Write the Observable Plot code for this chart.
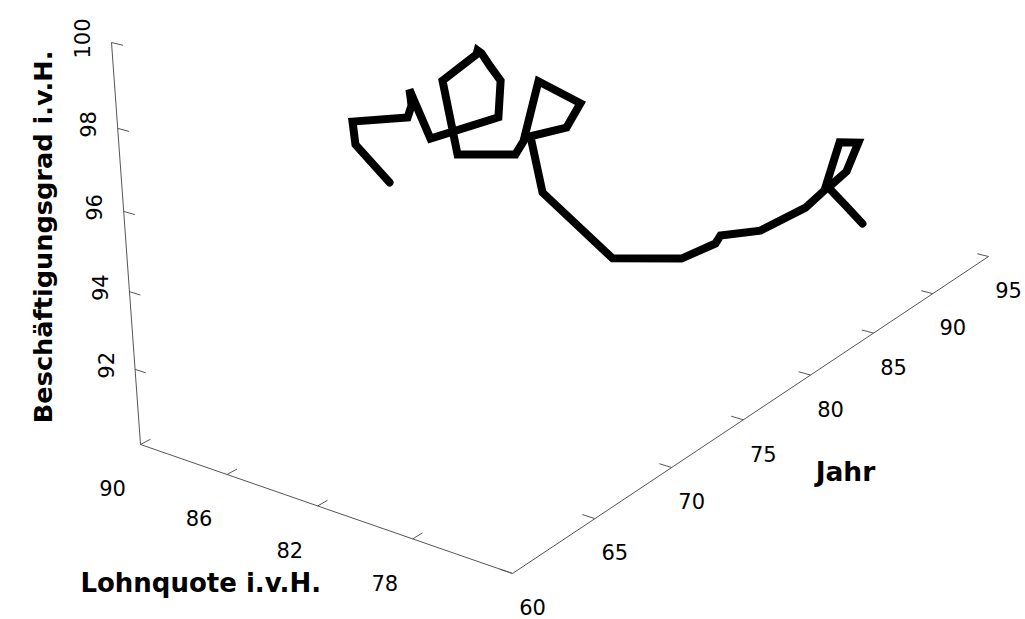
<!DOCTYPE html>
<html><head><meta charset="utf-8">
<script src="https://cdn.jsdelivr.net/npm/d3@7"></script>
<script src="https://cdn.jsdelivr.net/npm/@observablehq/plot@0.6"></script>
<style>
body{margin:0;background:#fff;}
</style></head>
<body><div id="chart"></div>
<script>
// Data (Jahr as two-digit years, Lohnquote i.v.H., Beschäftigungsgrad i.v.H.)
const jahr = [60,61,62,63,64,65,66,67,68,69,70,71,72,73,74,75,76,77,78,79,80,81,82,83,84,85,86,87,88,89,90,91,92,93,94,95];
const lohnquote = [78.71,80.76,81.61,80.15,80.71,81.47,82.23,82.10,80.02,80.61,81.70,82.75,83.60,84.33,86.51,86.55,84.63,84.94,84.96,83.73,84.96,87.25,87.30,84.58,82.01,81.08,81.43,80.20,78.80,78.54,78.54,78.22,79.14,80.40,80.06,79.72];
const beschaeftigung = [98.40,98.75,98.96,99.07,99.08,99.00,98.88,97.56,98.17,98.77,98.78,98.79,98.58,98.22,97.10,94.99,95.08,95.19,96.58,95.99,94.99,94.24,92.46,90.79,90.99,91.36,91.32,91.45,92.12,92.45,93.61,93.46,92.31,91.45,90.77,90.07];
const yearTicks = [60,65,70,75,80,85,90,95];
const lohnTicks = [90,86,82,78];
const beschTicks = [92,94,96,98,100];
const jahrDomain = [60,95], lohnDomain = [74,90], beschDomain = [90,100];

// perspective camera (homogeneous 3x4 projection of the normalised cube)
const cam = {ox:140, oy:444, o3:1, ux:662.9, uy:-228.95, u3:0.2325, vx:325.92, vy:77.43, v3:-0.09, wx:-37.88, wy:-405.36, w3:-0.08};
function P(J,L,B){
  const u=(J-jahrDomain[0])/(jahrDomain[1]-jahrDomain[0]);
  const v=(lohnDomain[1]-L)/(lohnDomain[1]-lohnDomain[0]);
  const w=(B-beschDomain[0])/(beschDomain[1]-beschDomain[0]);
  const d=cam.o3+cam.u3*u+cam.v3*v+cam.w3*w;
  return [(cam.ox+cam.ux*u+cam.vx*v+cam.wx*w)/d,(cam.oy+cam.uy*u+cam.vy*v+cam.wy*w)/d];
}
const X=d=>P(...d)[0], Y=d=>P(...d)[1];
const rows = jahr.map((J,i)=>({J, L:lohnquote[i], B:beschaeftigung[i]}));

const J0=jahrDomain[0], J1=jahrDomain[1], Lmin=lohnDomain[0], Lmax=lohnDomain[1], B0=beschDomain[0], B1=beschDomain[1];
const axes=[{a:[J0,Lmax,B0],b:[J0,Lmax,B1]},{a:[J0,Lmax,B0],b:[J0,Lmin,B0]},{a:[J0,Lmin,B0],b:[J1,Lmin,B0]}];
const ticks=[
  ...beschTicks.map(b=>({a:[J0,Lmax,b],b:[J0,Lmax-0.5,b]})),
  ...lohnTicks.map(l=>({a:[J0,l,B0],b:[J0+0.56,l,B0]})),
  ...yearTicks.map(y=>({a:[y,Lmin,B0],b:[y,Lmin+0.5,B0]}))
];

const chart = Plot.plot({width:1025,height:619,margin:0,
 x:{domain:[0,1025],range:[0,1025],axis:null}, y:{domain:[0,619],range:[0,619],axis:null},
 style:{fontFamily:"DejaVu Sans",background:"#fff"},
 marks:[
  Plot.link(axes,{x1:d=>X(d.a),y1:d=>Y(d.a),x2:d=>X(d.b),y2:d=>Y(d.b),stroke:"#555",strokeWidth:1}),
  Plot.link(ticks,{x1:d=>X(d.a),y1:d=>Y(d.a),x2:d=>X(d.b),y2:d=>Y(d.b),stroke:"#555",strokeWidth:1}),
  Plot.text(beschTicks,{x:b=>X([J0,Lmax,b]),y:b=>Y([J0,Lmax,b]),text:b=>String(b),rotate:-90,dx:-28,dy:-4,fontSize:21,fill:"#000"}),
  Plot.text(lohnTicks,{x:l=>X([J0,l,B0]),y:l=>Y([J0,l,B0]),text:l=>String(l),dx:-28,dy:45,fontSize:21,fill:"#000"}),
  Plot.text(yearTicks,{x:y=>X([y,Lmin,B0]),y:y=>Y([y,Lmin,B0]),text:y=>String(y),dx:20,dy:35,fontSize:21,fill:"#000"}),
  Plot.text(["Beschäftigungsgrad i.v.H."],{x:()=>X([J0,Lmax,95]),y:()=>Y([J0,Lmax,95]),text:d=>d,rotate:-90,dx:-83,dy:-15,fontSize:25.6,fontWeight:"bold",fill:"#000"}),
  Plot.text(["Lohnquote i.v.H."],{x:()=>X([J0,82,B0]),y:()=>Y([J0,82,B0]),text:d=>d,dx:-117,dy:78,fontSize:26,fontWeight:"bold",fill:"#000"}),
  Plot.text(["Jahr"],{x:()=>X([77.5,Lmin,B0]),y:()=>Y([77.5,Lmin,B0]),text:d=>d,dx:68,dy:75,fontSize:26.5,fontWeight:"bold",fill:"#000"}),
  Plot.line(rows,{x:d=>X([d.J,d.L,d.B]),y:d=>Y([d.J,d.L,d.B]),stroke:"#000",strokeWidth:8,strokeLinejoin:"miter",strokeMiterlimit:4})
 ]});
document.getElementById("chart").append(chart);
</script></body></html>
